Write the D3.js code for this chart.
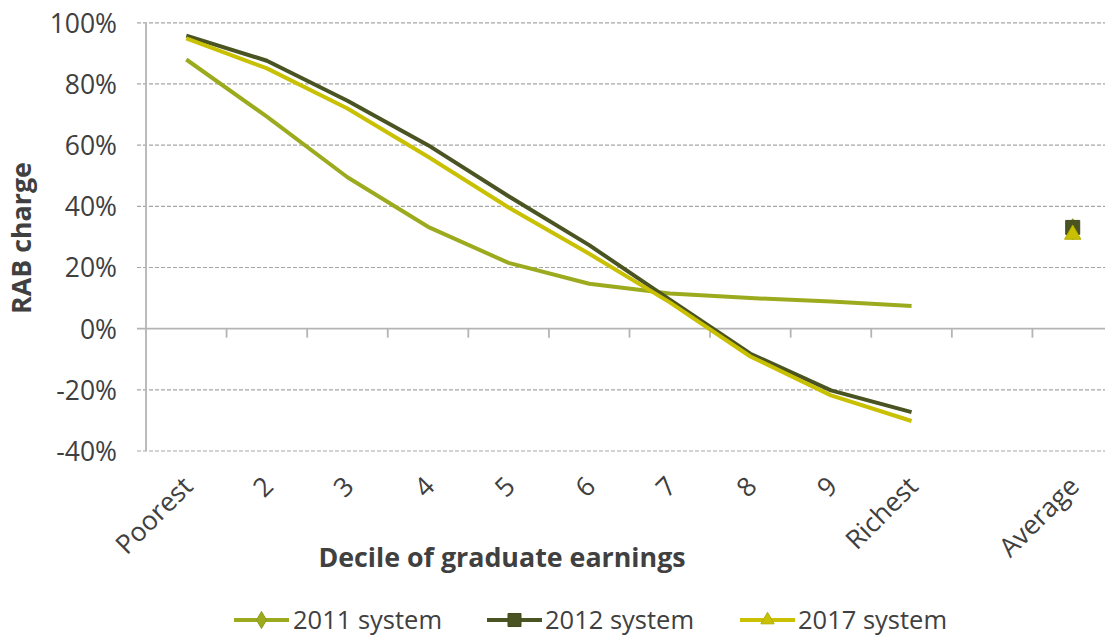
<!DOCTYPE html>
<html>
<head>
<meta charset="utf-8">
<script src="https://cdn.jsdelivr.net/npm/d3@7"></script>
<style>
  html, body { margin: 0; padding: 0; background: #fff; }
  svg { display: block; font-family: "Open Sans", "Noto Sans", sans-serif; }
</style>
</head>
<body>
<svg id="chart" width="1105" height="637"></svg>
<script>
const categories = ["Poorest", "2", "3", "4", "5", "6", "7", "8", "9", "Richest", "", "Average"];
const series2011 = [0.880, 0.693, 0.495, 0.333, 0.215, 0.147, 0.115, 0.100, 0.089, 0.074, null, 0.325];
const series2012 = [0.958, 0.876, 0.745, 0.600, 0.433, 0.273, 0.095, -0.082, -0.202, -0.273, null, 0.331];
const series2017 = [0.949, 0.851, 0.720, 0.562, 0.396, 0.245, 0.086, -0.091, -0.218, -0.302, null, 0.311];
const seriesNames = ["2011 system", "2012 system", "2017 system"];
const seriesColors = ["#9cab1e", "#4a5422", "#c8c000"];
const seriesMarkers = ["diamond", "square", "triangle"];
const yTicks = [-0.4, -0.2, 0, 0.2, 0.4, 0.6, 0.8, 1.0];

const svg = d3.select("#chart");
const plotLeft = 146, plotRight = 1113, plotTop = 22.8, plotBottom = 451;
const x = d3.scaleBand().domain(categories.map((c, i) => i)).range([plotLeft, plotRight]).padding(0);
const y = d3.scaleLinear().domain([-0.4, 1.0]).range([plotBottom, plotTop]);
const cx = i => x(i) + x.bandwidth() / 2;
const textColor = "#404040";
const axisColor = "#b4b4b4";

// gridlines
svg.append("g").selectAll("line").data(yTicks.filter(t => t !== 0)).join("line")
  .attr("x1", 137).attr("x2", 1105)
  .attr("y1", d => y(d)).attr("y2", d => y(d))
  .attr("stroke", "#a6a6a6").attr("stroke-width", 1.2)
  .attr("stroke-dasharray", "4,2");

// y axis line
svg.append("line").attr("x1", plotLeft).attr("x2", plotLeft).attr("y1", plotTop).attr("y2", plotBottom)
  .attr("stroke", axisColor).attr("stroke-width", 1.8);

// zero line
svg.append("line").attr("x1", 137).attr("x2", 1105).attr("y1", y(0)).attr("y2", y(0))
  .attr("stroke", axisColor).attr("stroke-width", 1.8);

// x ticks at band boundaries
svg.append("g").selectAll("line").data(d3.range(1, categories.length)).join("line")
  .attr("x1", i => x(i)).attr("x2", i => x(i))
  .attr("y1", y(0)).attr("y2", y(0) + 9)
  .attr("stroke", axisColor).attr("stroke-width", 1.8);

// y tick labels
svg.append("g").selectAll("text").data(yTicks).join("text")
  .attr("x", 117).attr("y", d => y(d))
  .attr("text-anchor", "end").attr("dominant-baseline", "central")
  .attr("font-size", 26.5).attr("fill", textColor)
  .text(d => d3.format(".0%")(d).replace("−", "-"));

// x tick labels
svg.append("g").selectAll("text").data(categories.map((c, i) => ({c, i})).filter(d => d.c !== "")).join("text")
  .attr("transform", d => `translate(${cx(d.i) + 1},${481}) rotate(-45)`)
  .attr("text-anchor", "end").attr("dominant-baseline", "central")
  .attr("font-size", 26.5).attr("fill", textColor)
  .text(d => d.c);

// axis titles
svg.append("text").attr("x", 502).attr("y", 567).attr("text-anchor", "middle")
  .attr("font-size", 26.8).attr("font-weight", "bold").attr("fill", textColor)
  .text("Decile of graduate earnings");
svg.append("text").attr("transform", "translate(31,238) rotate(-90)").attr("text-anchor", "middle")
  .attr("font-size", 26.8).attr("font-weight", "bold").attr("fill", textColor)
  .text("RAB charge");

// lines
const allSeries = [series2011, series2012, series2017];
const line = d3.line().defined(d => d.v !== null && d.i < 10).x(d => cx(d.i)).y(d => y(d.v));
allSeries.forEach((s, k) => {
  svg.append("path")
    .datum(s.map((v, i) => ({v, i})))
    .attr("d", line)
    .attr("fill", "none").attr("stroke", seriesColors[k]).attr("stroke-width", 4)
    .attr("stroke-linejoin", "round");
});

// markers (Average points)
function marker(sel, type, color, size) {
  const sym = type === "diamond" ? d3.symbolDiamond : type === "square" ? d3.symbolSquare : d3.symbolTriangle;
  const area = type === "square" ? size * size : type === "diamond" ? size * size * 0.5 : size * size * 0.45;
  return sel.append("path").attr("d", d3.symbol().type(sym).size(area)())
    .attr("fill", color).attr("stroke", d3.color(color).darker(0.3)).attr("stroke-width", 1);
}
allSeries.forEach((s, k) => {
  const i = categories.length - 1;
  const g = svg.append("g").attr("transform", `translate(${cx(i)},${y(s[i]) + (k === 2 ? 1 : 0)})`);
  marker(g, seriesMarkers[k], seriesColors[k], k === 1 ? 14 : 16);
});

// legend
const legendY = 619;
const legendItems = [{lx: 234, tx: 293}, {lx: 487, tx: 545}, {lx: 740, tx: 798}];
legendItems.forEach((it, k) => {
  const g = svg.append("g");
  g.append("line").attr("x1", it.lx).attr("x2", it.lx + 55).attr("y1", legendY + 1).attr("y2", legendY + 1)
    .attr("stroke", seriesColors[k]).attr("stroke-width", 4);
  const mg = g.append("g").attr("transform", `translate(${it.lx + 27.5},${legendY + 1})`);
  marker(mg, seriesMarkers[k], seriesColors[k], 13);
  g.append("text").attr("x", it.tx).attr("y", legendY).attr("dominant-baseline", "central")
    .attr("font-size", 25.5).attr("fill", textColor).text(seriesNames[k]);
});
</script>
</body>
</html>
